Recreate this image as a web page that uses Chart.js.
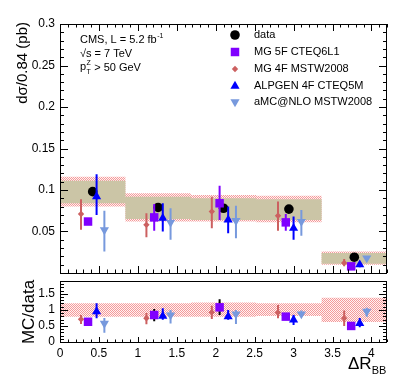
<!DOCTYPE html>
<html lang="en">
<head>
    <meta charset="UTF-8">
    <title>dsigma / dR_BB</title>
    <style>
        body { margin: 0; background: #fff; }
        #wrap { position: relative; width: 399px; height: 387px; }
        canvas { position: absolute; left: 0; top: 0; }
    </style>
</head>
<body>
    <div id="wrap">
        <canvas id="topChart" width="399" height="387"></canvas>
        <canvas id="ratioChart" width="399" height="387"></canvas>
    </div>

    <script src="https://cdn.jsdelivr.net/npm/chart.js"></script>
    <script>
        // bins in delta R_BB
        const binEdges = [0, 0.84, 1.68, 2.52, 3.36, 4.2];

        // data
        const dataX = [0.42, 1.26, 2.10, 2.94, 3.78];
        const dataY = [0.098, 0.079, 0.078, 0.077, 0.019];
        const statLo = [0.084, 0.065, 0.064, 0.064, 0.011];
        const statHi = [0.111, 0.092, 0.090, 0.089, 0.024];
        const sysLo = [0.080, 0.062, 0.062, 0.061, 0.010];
        const sysHi = [0.116, 0.096, 0.094, 0.093, 0.026];

        // MG 5F CTEQ6L1
        const mg5X = [0.36, 1.21, 2.05, 2.90, 3.74];
        const mg5Y = [0.062, 0.067, 0.084, 0.061, 0.008];
        const mg5Lo = [0.059, 0.051, 0.064, 0.051, 0.006];
        const mg5Hi = [0.065, 0.083, 0.105, 0.071, 0.010];

        // MG 4F MSTW2008
        const mg4X = [0.27, 1.11, 1.95, 2.80, 3.65];
        const mg4Y = [0.071, 0.058, 0.074, 0.069, 0.012];
        const mg4Lo = [0.052, 0.043, 0.054, 0.051, 0.008];
        const mg4Hi = [0.089, 0.072, 0.092, 0.086, 0.017];

        // ALPGEN 4F CTEQ5M
        const alpX = [0.47, 1.32, 2.16, 3.00, 3.85];
        const alpY = [0.092, 0.066, 0.064, 0.054, 0.010];
        const alpLo = [0.070, 0.050, 0.048, 0.040, 0.007];
        const alpHi = [0.119, 0.084, 0.080, 0.068, 0.013];

        // aMC@NLO MSTW2008
        const amcX = [0.57, 1.42, 2.26, 3.10, 3.94];
        const amcY = [0.052, 0.061, 0.063, 0.062, 0.018];
        const amcLo = [0.026, 0.040, 0.042, 0.045, 0.016];
        const amcHi = [0.075, 0.078, 0.081, 0.076, 0.020];

        // ratio MC/data
        const ratioBandLo = [0.79, 0.79, 0.79, 0.81, 0.62];
        const ratioBandHi = [1.21, 1.21, 1.23, 1.21, 1.38];
        const rMg5 = [0.63, 0.84, 1.08, 0.79, 0.50];
        const rMg5Lo = [0.58, 0.65, 0.84, 0.72, 0.45];
        const rMg5Hi = [0.68, 1.03, 1.33, 0.86, 0.55];
        const rMg4 = [0.71, 0.74, 0.93, 0.92, 0.74];
        const rMg4Lo = [0.56, 0.55, 0.72, 0.74, 0.50];
        const rMg4Hi = [0.84, 0.90, 1.13, 1.15, 0.98];
        const rAlp = [0.95, 0.81, 0.79, 0.69, 0.58];
        const rAlpLo = [0.74, 0.69, 0.69, 0.53, 0.46];
        const rAlpHi = [1.21, 1.05, 1.00, 0.84, 0.75];
        const rAmc = [0.58, 0.84, 0.87, 0.87, 0.95];
        const rAmcLo = [0.29, 0.58, 0.56, 0.78, 0.79];
        const rAmcHi = [0.75, 1.00, 1.00, 0.98, 1.07];

        const legendNames = ["data", "MG 5F CTEQ6L1", "MG 4F MSTW2008", "ALPGEN 4F CTEQ5M", "aMC@NLO MSTW2008"];

        const FONT = '"Liberation Sans", Arial, Helvetica, sans-serif';
        const C_DATA = "#000000";
        const C_MG5 = "#8000ff";
        const C_MG4 = "#cc6060";
        const C_ALP = "#0000ff";
        const C_AMC = "#7799dd";
        const C_STAT = "#cbc5a6";

        const styles = [
            { pointStyle: "circle", radius: 4.8, rotation: 0, color: C_DATA },
            { pointStyle: "rect", radius: 6, rotation: 0, color: C_MG5 },
            { pointStyle: "rectRot", radius: 3.2, rotation: 0, color: C_MG4 },
            { pointStyle: "triangle", radius: 5.3, rotation: 0, color: C_ALP },
            { pointStyle: "triangle", radius: 5.3, rotation: 180, color: C_AMC }
        ];

        // red dotted hatch, like the ROOT fill style
        function makeHatch() {
            const c = document.createElement("canvas");
            c.width = 2; c.height = 2;
            const g = c.getContext("2d");
            g.fillStyle = "#fff2f2";
            g.fillRect(0, 0, 2, 2);
            g.fillStyle = "#f49a9a";
            g.fillRect(0, 0, 1, 1);
            g.fillRect(1, 1, 1, 1);
            return g.createPattern(c, "repeat");
        }
        const hatch = makeHatch();

        function stepPoints(edges, vals) {
            let pts = [];
            for (let i = 0; i < vals.length; i++) {
                pts.push({ x: edges[i], y: vals[i] });
                pts.push({ x: edges[i + 1], y: vals[i] });
            }
            return pts;
        }

        function errPoints(xs, lo, hi) {
            let pts = [];
            for (let i = 0; i < xs.length; i++) {
                pts.push({ x: xs[i], y: lo[i] });
                pts.push({ x: xs[i], y: hi[i] });
                pts.push({ x: xs[i], y: null });
            }
            return pts;
        }

        function xy(xs, ys) {
            return xs.map((v, i) => ({ x: v, y: ys[i] }));
        }

        function bandSet(pts, fill, color, order) {
            return {
                type: "line", data: pts, order: order,
                borderWidth: 0, borderColor: "rgba(0,0,0,0)",
                pointRadius: 0, fill: fill, backgroundColor: color
            };
        }

        function errSet(pts, color, order) {
            return {
                type: "line", data: pts, order: order,
                borderColor: color, borderWidth: 2,
                pointRadius: 0, spanGaps: false, fill: false
            };
        }

        function markSet(pts, st, order) {
            return {
                type: "scatter", data: pts, order: order,
                pointStyle: st.pointStyle, pointRadius: st.radius,
                rotation: st.rotation,
                backgroundColor: st.color, borderColor: st.color, borderWidth: 0
            };
        }

        function isMajor(v, step) {
            const q = v / step;
            return Math.abs(q - Math.round(q)) < 1e-6;
        }

        // frame with inward ROOT-style ticks
        function drawAxes(chart, cfg) {
            const ctx = chart.ctx;
            const a = chart.chartArea;
            const sx = chart.scales.x, sy = chart.scales.y;
            ctx.save();
            ctx.strokeStyle = "#000";
            ctx.lineWidth = 1;
            ctx.strokeRect(a.left + 0.5, a.top + 0.5, a.right - a.left - 1, a.bottom - a.top);
            ctx.beginPath();
            let n = Math.round((sx.max - sx.min) / cfg.xMinor);
            for (let i = 0; i <= n; i++) {
                const v = sx.min + i * cfg.xMinor;
                const px = Math.round(sx.getPixelForValue(v)) + 0.5;
                const len = isMajor(v, cfg.xMajor) ? cfg.xLen : cfg.xLen / 2;
                if (cfg.bottom) { ctx.moveTo(px, a.bottom); ctx.lineTo(px, a.bottom - len); }
                if (cfg.top) { ctx.moveTo(px, a.top); ctx.lineTo(px, a.top + len); }
            }
            n = Math.round((sy.max - sy.min) / cfg.yMinor);
            for (let i = 0; i <= n; i++) {
                const v = sy.min + i * cfg.yMinor;
                const py = Math.round(sy.getPixelForValue(v)) + 0.5;
                const len = isMajor(v, cfg.yMajor) ? cfg.yLen : cfg.yLen / 2;
                ctx.moveTo(a.left, py); ctx.lineTo(a.left + len, py);
                ctx.moveTo(a.right, py); ctx.lineTo(a.right - len, py);
            }
            ctx.stroke();
            ctx.restore();
        }

        function fmt(v) {
            return String(+v.toFixed(2));
        }

        const topTexts = {
            id: "topTexts",
            afterDraw(chart) {
                drawAxes(chart, { xMinor: 0.1, xMajor: 0.5, xLen: 7, yMinor: 0.01, yMajor: 0.05, yLen: 8, top: true, bottom: true });
                const ctx = chart.ctx;
                ctx.save();
                ctx.fillStyle = "#000";

                // y title
                ctx.save();
                ctx.translate(23, 22);
                ctx.rotate(-Math.PI / 2);
                ctx.font = "15px " + FONT;
                ctx.textAlign = "right";
                ctx.textBaseline = "middle";
                ctx.fillText("dσ/0.84 (pb)", 0, 0);
                ctx.restore();

                // CMS label
                ctx.font = "11px " + FONT;
                ctx.textAlign = "left";
                ctx.textBaseline = "middle";
                let t = "CMS, L = 5.2 fb";
                ctx.fillText(t, 80, 40);
                let w = ctx.measureText(t).width;
                ctx.font = "7px " + FONT;
                ctx.fillText("-1", 80 + w + 0.5, 36);
                ctx.font = "11px " + FONT;
                ctx.fillText("√s = 7 TeV", 80, 54);
                ctx.fillText("p", 80, 67);
                w = ctx.measureText("p").width;
                ctx.font = "7px " + FONT;
                ctx.fillText("Z", 80 + w + 0.5, 63);
                ctx.fillText("T", 80 + w + 0.5, 72);
                ctx.font = "11px " + FONT;
                ctx.fillText(" > 50 GeV", 80 + w + 5, 68);

                // legend
                const rows = [35, 52, 69, 86, 102];
                for (let i = 0; i < legendNames.length; i++) {
                    const st = styles[i];
                    ctx.fillStyle = st.color;
                    ctx.strokeStyle = st.color;
                    Chart.helpers.drawPoint(ctx, { pointStyle: st.pointStyle, radius: st.radius, rotation: st.rotation, borderWidth: 0 }, 235, rows[i]);
                    ctx.fillStyle = "#000";
                    ctx.font = "11px " + FONT;
                    ctx.fillText(legendNames[i], 254, rows[i]);
                }
                ctx.restore();
            }
        };

        const ratioTexts = {
            id: "ratioTexts",
            afterDraw(chart) {
                drawAxes(chart, { xMinor: 0.1, xMajor: 0.5, xLen: 5, yMinor: 0.1, yMajor: 0.5, yLen: 8, top: false, bottom: true });
                const ctx = chart.ctx;
                ctx.save();
                ctx.fillStyle = "#000";
                ctx.save();
                ctx.translate(29, 312);
                ctx.rotate(-Math.PI / 2);
                ctx.font = "17px " + FONT;
                ctx.textAlign = "center";
                ctx.textBaseline = "middle";
                ctx.fillText("MC/data", 0, 0);
                ctx.restore();

                ctx.textAlign = "left";
                ctx.textBaseline = "alphabetic";
                ctx.font = "17px " + FONT;
                ctx.fillText("ΔR", 348, 369);
                const w = ctx.measureText("ΔR").width;
                ctx.font = "11px " + FONT;
                ctx.fillText("BB", 348 + w, 374);
                ctx.restore();
            }
        };

        Chart.defaults.font.family = FONT;
        Chart.defaults.color = "#000";

        // top panel
        const topChart = new Chart(document.getElementById("topChart"), {
            type: "scatter",
            data: {
                datasets: [
                    bandSet(stepPoints(binEdges, sysLo), false, hatch, 40),
                    bandSet(stepPoints(binEdges, sysHi), "-1", hatch, 39),
                    bandSet(stepPoints(binEdges, statLo), false, C_STAT, 38),
                    bandSet(stepPoints(binEdges, statHi), "-1", C_STAT, 37),
                    markSet(xy(dataX, dataY), styles[0], 20),
                    errSet(errPoints(mg5X, mg5Lo, mg5Hi), C_MG5, 19),
                    markSet(xy(mg5X, mg5Y), styles[1], 18),
                    errSet(errPoints(mg4X, mg4Lo, mg4Hi), C_MG4, 17),
                    markSet(xy(mg4X, mg4Y), styles[2], 16),
                    errSet(errPoints(alpX, alpLo, alpHi), C_ALP, 15),
                    markSet(xy(alpX, alpY), styles[3], 14),
                    errSet(errPoints(amcX, amcLo, amcHi), C_AMC, 13),
                    markSet(xy(amcX, amcY), styles[4], 12)
                ]
            },
            options: {
                responsive: false,
                animation: false,
                devicePixelRatio: 1,
                layout: { padding: { top: 24, right: 12, bottom: 114, left: 0 } },
                plugins: { legend: { display: false }, tooltip: { enabled: false } },
                scales: {
                    x: { type: "linear", min: 0, max: 4.2, display: false },
                    y: {
                        type: "linear", min: 0, max: 0.3,
                        grid: { display: false, drawTicks: false },
                        border: { display: false },
                        ticks: {
                            stepSize: 0.05, padding: 5,
                            font: { size: 12 },
                            callback: v => (Math.abs(v) < 1e-9 ? "" : fmt(v))
                        },
                        afterFit: s => { s.width = 60; }
                    }
                }
            },
            plugins: [topTexts]
        });

        // ratio panel
        const ratioChart = new Chart(document.getElementById("ratioChart"), {
            type: "scatter",
            data: {
                datasets: [
                    bandSet(stepPoints(binEdges, ratioBandLo), false, hatch, 40),
                    bandSet(stepPoints(binEdges, ratioBandHi), "-1", hatch, 39),
                    errSet(errPoints(mg5X, rMg5Lo, rMg5Hi), "#000", 19),
                    markSet(xy(mg5X, rMg5), styles[1], 18),
                    errSet(errPoints(mg4X, rMg4Lo, rMg4Hi), C_MG4, 17),
                    markSet(xy(mg4X, rMg4), styles[2], 16),
                    errSet(errPoints(alpX, rAlpLo, rAlpHi), C_ALP, 15),
                    markSet(xy(alpX, rAlp), styles[3], 14),
                    errSet(errPoints(amcX, rAmcLo, rAmcHi), C_AMC, 13),
                    markSet(xy(amcX, rAmc), styles[4], 12)
                ]
            },
            options: {
                responsive: false,
                animation: false,
                devicePixelRatio: 1,
                layout: { padding: { top: 281, right: 12, bottom: 0, left: 0 } },
                plugins: { legend: { display: false }, tooltip: { enabled: false } },
                scales: {
                    x: {
                        type: "linear", min: 0, max: 4.2,
                        grid: { display: false, drawTicks: false },
                        border: { display: false },
                        ticks: {
                            stepSize: 0.5, padding: 4, includeBounds: false,
                            autoSkip: false, maxRotation: 0,
                            font: { size: 12 },
                            callback: v => fmt(v)
                        },
                        afterFit: s => { s.height = 45; }
                    },
                    y: {
                        type: "linear", min: 0, max: 1.9,
                        grid: { display: false, drawTicks: false },
                        border: { display: false },
                        ticks: {
                            stepSize: 0.5, padding: 5, includeBounds: false,
                            font: { size: 12 },
                            callback: v => fmt(v)
                        },
                        afterFit: s => { s.width = 60; }
                    }
                }
            },
            plugins: [ratioTexts]
        });
    </script>
</body>
</html>
